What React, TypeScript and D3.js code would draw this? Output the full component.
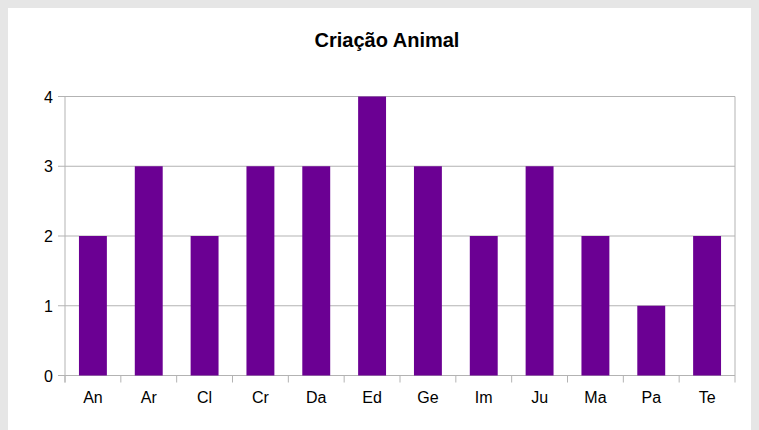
import React from "react";
import * as d3 from "d3";

const categories = ["An", "Ar", "Cl", "Cr", "Da", "Ed", "Ge", "Im", "Ju", "Ma", "Pa", "Te"];
const values = [2, 3, 2, 3, 3, 4, 3, 2, 3, 2, 1, 2];
const yTicks = [0, 1, 2, 3, 4];
const title = "Criação Animal";

export default function App() {
  const W = 759, H = 430;
  const left = 65, right = 735, top = 96.5, bottom = 375.5;
  const x = d3.scaleBand<string>().domain(categories).range([left, right]).paddingInner(0).paddingOuter(0);
  const y = d3.scaleLinear().domain([0, 4]).range([bottom, top]);
  const bw = x.bandwidth() * 0.5;
  const grid = "#b3b3b3";
  const font = "'Liberation Sans', Arial, sans-serif";
  return (
    <svg width={W} height={H} style={{ position: "absolute", left: 0, top: 0 }}>
      <rect x={0} y={0} width={W} height={H} fill="#e6e6e6" />
      <rect x={8} y={8} width={743} height={H - 8} fill="#ffffff" />
      <text x={387} y={47} textAnchor="middle" fontFamily={font} fontWeight="bold" fontSize={20} fill="#000">{title}</text>
      {yTicks.map((t) => (
        <g key={t}>
          <line x1={58} x2={right} y1={y(t)} y2={y(t)} stroke={grid} strokeWidth={1} />
          <text x={53} y={y(t) + 6} textAnchor="end" fontFamily={font} fontSize={16} fill="#000">{t}</text>
        </g>
      ))}
      <line x1={left} x2={left} y1={top} y2={bottom + 7} stroke={grid} strokeWidth={1} />
      <line x1={right} x2={right} y1={top} y2={bottom + 7} stroke={grid} strokeWidth={1} />
      {categories.map((c) => (
        <line key={"t" + c} x1={x(c)!} x2={x(c)!} y1={bottom} y2={bottom + 7} stroke={grid} strokeWidth={1} />
      ))}
      {categories.map((c, i) => (
        <rect key={c} x={x(c)! + x.bandwidth() / 2 - bw / 2} y={y(values[i])} width={bw} height={bottom - y(values[i])} fill="#6b0093" />
      ))}
      {categories.map((c) => (
        <text key={"l" + c} x={x(c)! + x.bandwidth() / 2} y={403} textAnchor="middle" fontFamily={font} fontSize={16} fill="#000">{c}</text>
      ))}
    </svg>
  );
}
